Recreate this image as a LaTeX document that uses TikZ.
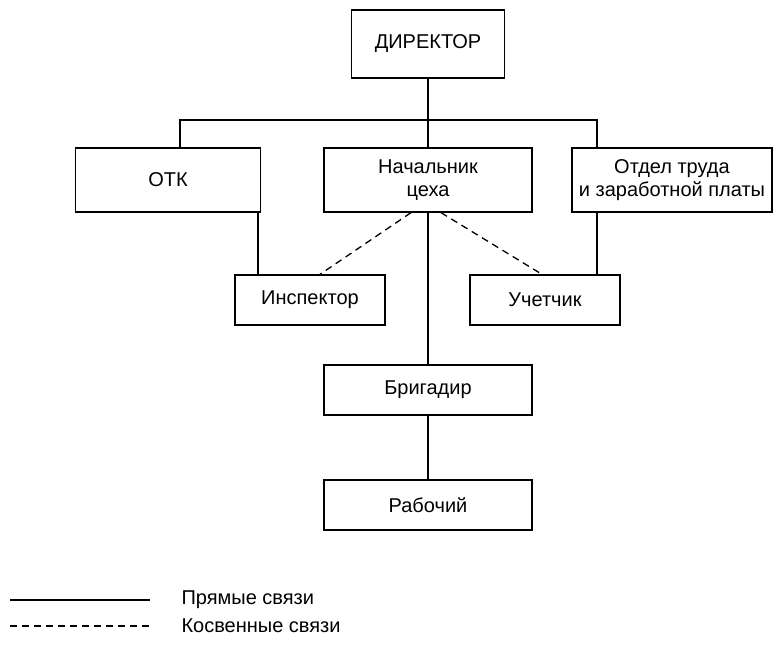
\documentclass[tikz,border=0pt]{standalone}
\usepackage{fontspec}
\setmainfont{Liberation Sans}
\usetikzlibrary{positioning}
\tikzset{
  orgbox/.style={draw, line width=1.3pt, font=\fontsize{20}{23}\selectfont,
    align=center, inner sep=2pt},
  linkline/.style={line width=1.3pt},
  indline/.style={line width=1.3pt, dash pattern=on 7pt off 5pt},
}

\begin{document}
\begin{tikzpicture}[x=1pt, y=-1pt]
  \useasboundingbox (0,0) rectangle (774,665);
  % Row 0: director
  \node[orgbox, minimum width=153pt, minimum height=68pt] at (428,44) (dir) {ДИРЕКТОР};
  % Row 1: departments
  \node[orgbox, minimum width=185pt, minimum height=64pt] at (168,180) (otk) {ОТК};
  \node[orgbox, minimum width=208pt, minimum height=64pt] at (428,180) (nach) {Начальник\\цеха};
  \node[orgbox, minimum width=200pt, minimum height=64pt] at (672,180) (otdel) {Отдел труда\\и заработной платы};
  % Row 2: staff
  \node[orgbox, minimum width=150pt, minimum height=50pt] at (310,300) (insp) {Инспектор};
  \node[orgbox, minimum width=150pt, minimum height=50pt] at (545,300) (uch) {Учетчик};
  % Row 3 and 4: brigade
  \node[orgbox, minimum width=208pt, minimum height=50pt] at (428,390) (brig) {Бригадир};
  \node[orgbox, minimum width=208pt, minimum height=50pt] at (428,505) (rab) {Рабочий};
  % Edges
  \coordinate (barL) at (180,120);
  \coordinate (barR) at (597,120);
  \coordinate (otkdrop) at (258,212);
  \coordinate (otddrop) at (597,212);
  \draw[linkline] (dir) -- (nach);
  \draw[linkline] (otk.north -| barL) -- (barL) -- (barR) -- (otdel.north -| barR);
  \draw[linkline] (otkdrop) -- (otkdrop |- insp.north);
  \draw[linkline] (otddrop) -- (otddrop |- uch.north);
  \draw[indline] ([xshift=-17pt]nach.south) -- ([xshift=10pt]insp.north);
  \draw[indline] ([xshift=13pt]nach.south) -- ([xshift=-3pt]uch.north);
  \draw[linkline] (nach) -- (brig);
  \draw[linkline] (brig) -- (rab);
  % Legend
  \node[anchor=west, font=\fontsize{20}{23}\selectfont] at (178,600) (ldir) {Прямые связи};
  \node[anchor=west, font=\fontsize{20}{23}\selectfont] at (178,626) (lind) {Косвенные связи};
  \coordinate (l1) at (10,600);
  \coordinate (l2) at (10,626);
  \draw[linkline] (l1) -- ([xshift=-28pt]ldir.west);
  \draw[indline] (l2) -- ([xshift=-28pt]lind.west);
\end{tikzpicture}
\end{document}
